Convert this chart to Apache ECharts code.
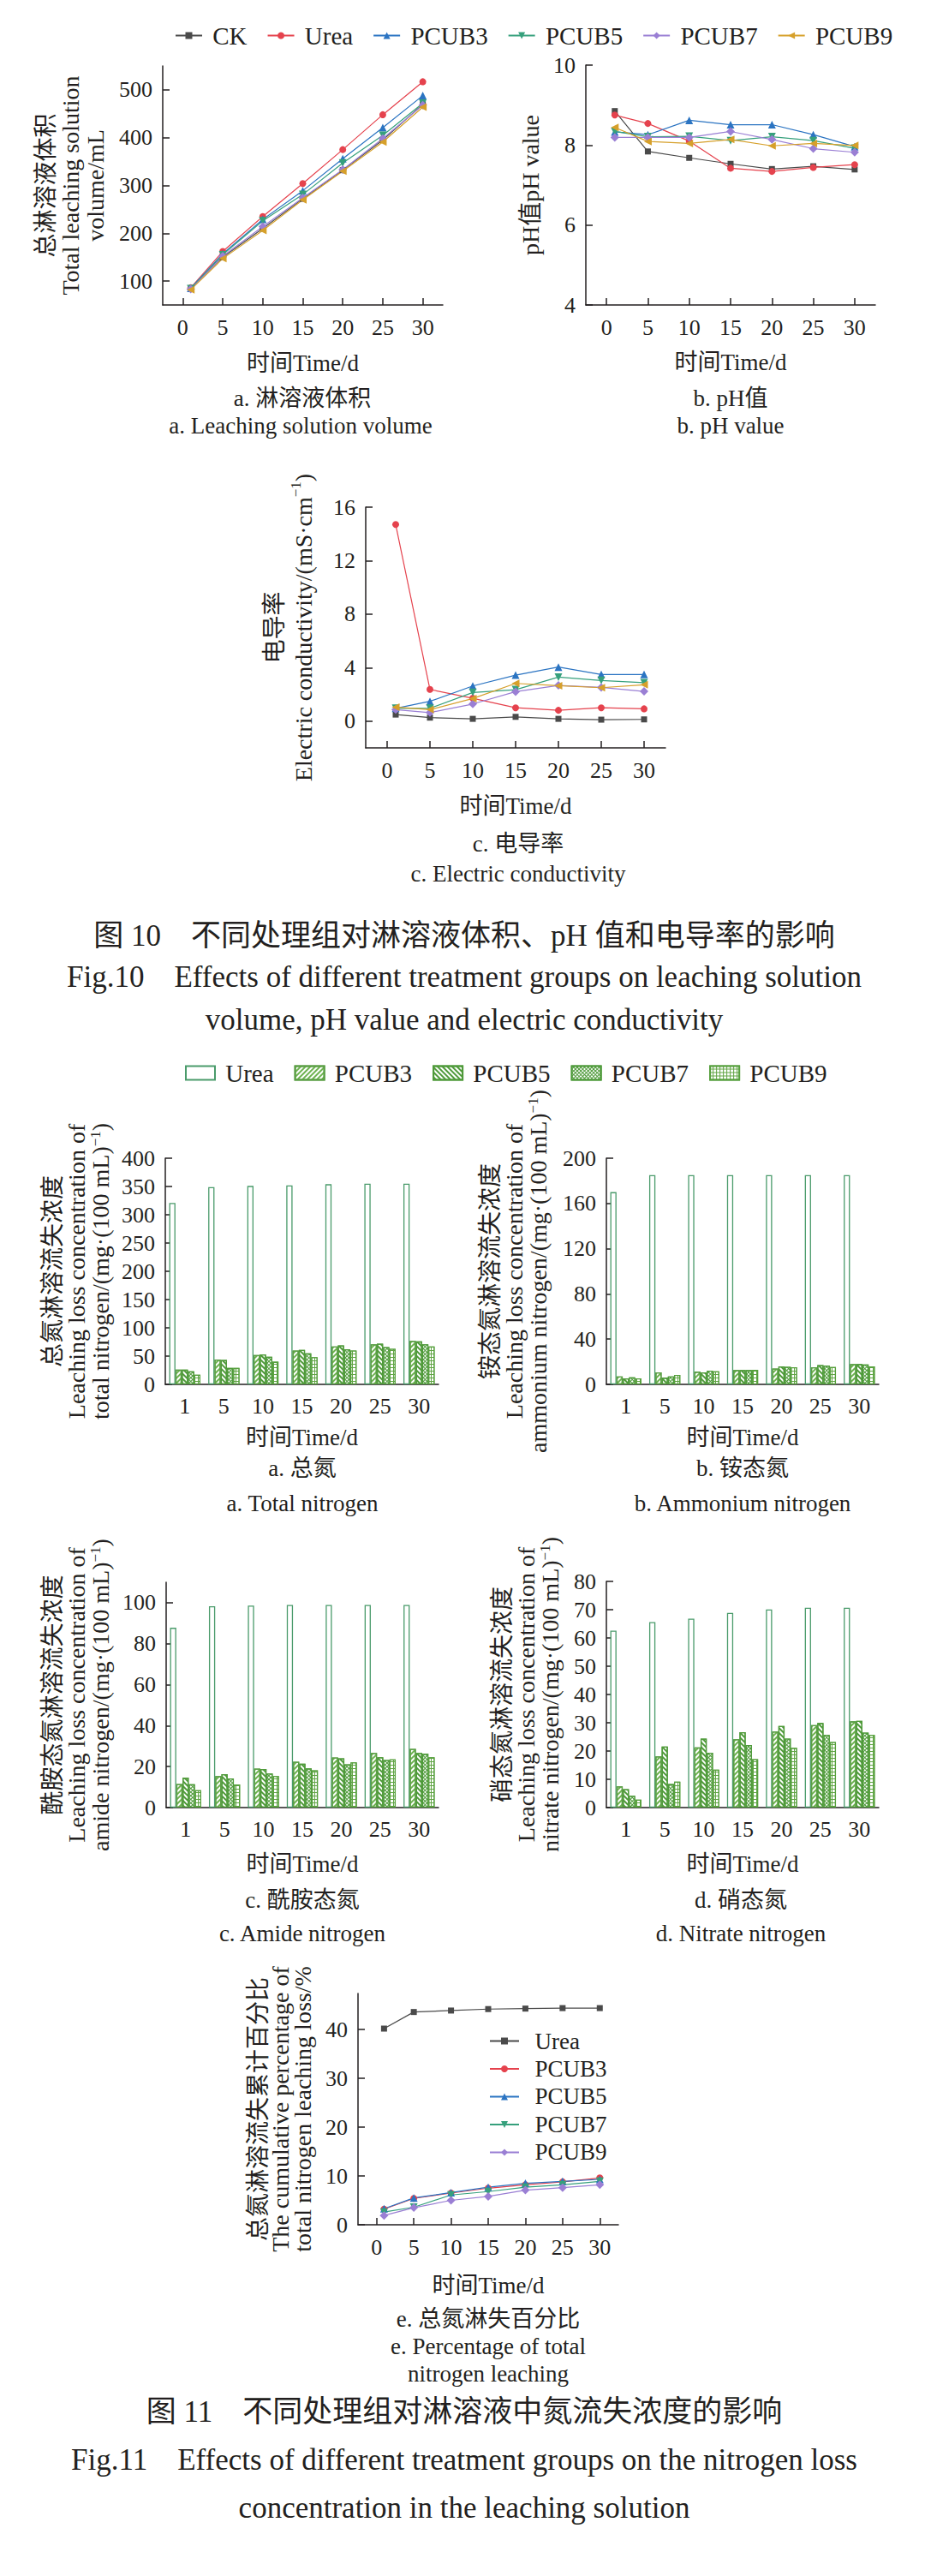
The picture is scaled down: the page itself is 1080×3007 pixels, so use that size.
<!DOCTYPE html>
<html><head><meta charset="utf-8">
<script src="https://cdn.jsdelivr.net/npm/echarts@6/dist/echarts.min.js"></script>
<style>
body{margin:0;background:#fff;width:1080px;height:3007px;position:relative;overflow:hidden}
.c{position:absolute;left:0;width:1080px}
</style></head>
<body>
<div id="c1" class="c" style="top:0;height:1225px"></div>
<div id="c2" class="c" style="top:1225px;height:1060px"></div>
<div id="c3" class="c" style="top:2285px;height:722px"></div>
<script>
// ---------- DATA ----------
const days = [1, 5, 10, 15, 20, 25, 30];
const dayTicks = [0, 5, 10, 15, 20, 25, 30];
const lineNames = ['CK', 'Urea', 'PCUB3', 'PCUB5', 'PCUB7', 'PCUB9'];

// Fig.10 a: total leaching solution volume (mL)
const volCK    = [85, 150, 210, 272, 332, 395, 470];
const volUrea  = [86, 162, 235, 304, 375, 448, 517];
const volPCUB3 = [85, 157, 229, 289, 356, 421, 488];
const volPCUB5 = [84, 155, 226, 281, 347, 405, 472];
const volPCUB7 = [83, 152, 214, 274, 333, 398, 468];
const volPCUB9 = [82, 147, 206, 270, 330, 391, 464];
const volTicks = [100, 200, 300, 400, 500];

// Fig.10 b: pH
const phCK    = [8.85, 7.84, 7.68, 7.53, 7.40, 7.47, 7.39];
const phUrea  = [8.75, 8.54, 8.10, 7.42, 7.34, 7.44, 7.51];
const phPCUB3 = [8.33, 8.26, 8.62, 8.51, 8.51, 8.26, 7.96];
const phPCUB5 = [8.34, 8.21, 8.22, 8.11, 8.21, 8.11, 7.92];
const phPCUB7 = [8.19, 8.19, 8.19, 8.34, 8.14, 7.91, 7.82];
const phPCUB9 = [8.44, 8.09, 8.04, 8.14, 7.98, 8.04, 7.99];
const phTicks = [4, 6, 8, 10];

// Fig.10 c: electric conductivity
const ecCK    = [0.49, 0.26, 0.17, 0.32, 0.17, 0.11, 0.13];
const ecUrea  = [14.7, 2.37, 1.71, 1.00, 0.81, 1.00, 0.92];
const ecPCUB3 = [0.96, 1.48, 2.63, 3.44, 4.04, 3.49, 3.49];
const ecPCUB5 = [0.96, 0.96, 2.14, 2.35, 3.29, 3.04, 2.87];
const ecPCUB7 = [0.86, 0.64, 1.28, 2.20, 2.67, 2.52, 2.22];
const ecPCUB9 = [1.05, 0.86, 1.69, 2.82, 2.65, 2.50, 2.72];
const ecTicks = [0, 4, 8, 12, 16];

// Fig.11 bars
const barNames = ['Urea', 'PCUB3', 'PCUB5', 'PCUB7', 'PCUB9'];
const barCats = ['1', '5', '10', '15', '20', '25', '30'];
// a total nitrogen
const tnUrea  = [321, 349, 351, 352, 354, 355, 355];
const tnPCUB3 = [26, 44, 52, 60, 67, 71, 77];
const tnPCUB5 = [26, 43, 53, 61, 69, 72, 76];
const tnPCUB7 = [23, 29, 49, 55, 62, 66, 71];
const tnPCUB9 = [17, 29, 40, 48, 60, 63, 67];
// b ammonium nitrogen
const amUrea  = [170, 185, 185, 185, 185, 185, 185];
const amPCUB3 = [7.0, 10.6, 11.3, 12.6, 14.1, 15.1, 18.0];
const amPCUB5 = [5.3, 6.0, 10.6, 12.6, 15.9, 17.1, 17.9];
const amPCUB7 = [6.3, 7.0, 12.1, 12.6, 15.6, 16.6, 17.7];
const amPCUB9 = [5.3, 8.3, 11.6, 12.9, 15.1, 15.4, 15.9];
// c amide nitrogen
const adUrea  = [87.8, 98.3, 98.6, 98.9, 98.9, 98.9, 98.9];
const adPCUB3 = [11.5, 15.4, 19.0, 22.4, 24.5, 26.7, 28.7];
const adPCUB5 = [14.6, 16.3, 18.8, 21.4, 24.1, 24.6, 26.7];
const adPCUB7 = [11.4, 14.2, 16.6, 19.1, 21.1, 23.2, 26.3];
const adPCUB9 = [8.5, 11.3, 15.4, 18.2, 22.1, 23.5, 24.6];
const adTicks = [0, 20, 40, 60, 80, 100];
// d nitrate nitrogen
const niUrea  = [62.6, 65.6, 66.8, 68.9, 70.1, 70.7, 70.7];
const niPCUB3 = [7.5, 18.1, 21.3, 24.2, 26.9, 29.2, 30.5];
const niPCUB5 = [6.5, 21.6, 24.4, 26.7, 28.9, 29.9, 30.7];
const niPCUB7 = [4.2, 8.3, 19.4, 22.1, 24.4, 25.7, 26.5];
const niPCUB9 = [2.8, 9.2, 13.4, 17.1, 21.1, 23.2, 25.7];

// Fig.11 e cumulative percentage
const cumNames = ['Urea', 'PCUB3', 'PCUB5', 'PCUB7', 'PCUB9'];
const cumUrea  = [40.2, 43.6, 43.9, 44.2, 44.3, 44.4, 44.4];
const cumPCUB3 = [3.2, 5.4, 6.5, 7.5, 8.2, 8.8, 9.6];
const cumPCUB5 = [3.3, 5.5, 6.6, 7.7, 8.5, 8.9, 9.3];
const cumPCUB7 = [2.6, 3.6, 6.1, 6.8, 7.7, 8.2, 8.9];
const cumPCUB9 = [1.9, 3.5, 5.0, 5.8, 7.1, 7.6, 8.2];
const cumTicks = [0, 10, 20, 30, 40];

// ---------- STYLE ----------
const TXT = '#231f20';
const FF = "'Liberation Serif','Times New Roman','Noto Sans CJK SC',serif";
const AX = {color: TXT, width: 1.5};

const sym = {
  gray:   {color: '#4a4a4a', symbol: 'rect', rot: 0, size: 7},
  red:    {color: '#e5424d', symbol: 'circle', rot: 0, size: 8},
  blue:   {color: '#2b74c2', symbol: 'triangle', rot: 0, size: 9},
  green:  {color: '#36a07c', symbol: 'triangle', rot: 180, size: 9},
  purple: {color: '#9a7fd4', symbol: 'diamond', rot: 0, size: 10},
  orange: {color: '#d6a02b', symbol: 'triangle', rot: 90, size: 9}
};
const lineStyleOf = {CK: sym.gray, Urea: sym.red, PCUB3: sym.blue, PCUB5: sym.green, PCUB7: sym.purple, PCUB9: sym.orange};
const cumStyleOf = {Urea: sym.gray, PCUB3: sym.red, PCUB5: sym.blue, PCUB7: sym.green, PCUB9: sym.purple};

function mkLine(name, vals, idx, s) {
  return {
    type: 'line', name, xAxisIndex: idx, yAxisIndex: idx,
    data: days.map((d, i) => [d, vals[i]]),
    symbol: s.symbol, symbolRotate: s.rot, symbolSize: s.size,
    lineStyle: {width: 1.2, color: s.color}, itemStyle: {color: s.color},
    animation: false
  };
}

function xVal(idx, gap) {
  return {
    type: 'value', gridIndex: idx, min: -2.5, max: 32.5,
    axisLine: {onZero: false, lineStyle: AX},
    axisTick: {inside: true, length: 8, customValues: dayTicks, lineStyle: AX},
    axisLabel: {customValues: dayTicks, fontSize: 26, color: TXT, fontFamily: FF, margin: 13},
    splitLine: {show: false},
    name: '时间Time/d', nameLocation: 'middle', nameGap: gap,
    nameTextStyle: {fontSize: 27, color: TXT, fontFamily: FF}
  };
}

function yAxisCfg(idx, o) {
  const a = {
    type: 'value', gridIndex: idx, min: o.min, max: o.max,
    axisLine: {show: true, onZero: false, lineStyle: AX},
    axisTick: {show: true, inside: true, length: 8, lineStyle: AX},
    axisLabel: {fontSize: 26, color: TXT, fontFamily: FF, margin: 12},
    splitLine: {show: false},
    name: o.name, nameLocation: 'middle', nameRotate: 90, nameGap: o.gap,
    nameTextStyle: {
      fontSize: 28, color: TXT, fontFamily: FF, lineHeight: o.lh || 29,
      rich: {
        t: {fontSize: 28, color: TXT, fontFamily: FF, lineHeight: o.lh || 29},
        s: {fontSize: 17, color: TXT, fontFamily: FF, lineHeight: 18, verticalAlign: 'top'}
      }
    }
  };
  if (o.ticks) { a.axisLabel.customValues = o.ticks; a.axisTick.customValues = o.ticks; }
  if (o.interval) a.interval = o.interval;
  return a;
}

function cap(text, x, y, size) {
  return {
    type: 'text', x, y, silent: true,
    style: {text, fontSize: size, fontFamily: FF, fill: TXT,
      align: 'center', verticalAlign: 'middle', textAlign: 'center', textVerticalAlign: 'middle'}
  };
}

// ---------- CHART 1 (Fig.10) ----------
const c1 = echarts.init(document.getElementById('c1'), null, {renderer: 'svg'});
const volSets = [volCK, volUrea, volPCUB3, volPCUB5, volPCUB7, volPCUB9];
const phSets = [phCK, phUrea, phPCUB3, phPCUB5, phPCUB7, phPCUB9];
const ecSets = [ecCK, ecUrea, ecPCUB3, ecPCUB5, ecPCUB7, ecPCUB9];
const s1 = [];
[volSets, phSets, ecSets].forEach((sets, idx) => {
  lineNames.forEach((n, k) => s1.push(mkLine(n, sets[k], idx, lineStyleOf[n])));
});
c1.setOption({
  animation: false,
  backgroundColor: '#fff',
  legend: {
    data: lineNames, left: 199, top: 22, itemWidth: 31, itemHeight: 10, itemGap: 23,
    formatter: ' {name}',
    textStyle: {fontSize: 29, color: TXT, fontFamily: FF}
  },
  grid: [
    {left: 190, top: 77, width: 327, height: 279},
    {left: 684, top: 76, width: 338, height: 280},
    {left: 427, top: 592, width: 350, height: 281}
  ],
  xAxis: [xVal(0, 54), xVal(1, 53), xVal(2, 54)],
  yAxis: [
    yAxisCfg(0, {min: 50, max: 550, ticks: volTicks, gap: 64, lh: 29,
      name: '总淋溶液体积\nTotal leaching solution\nvolume/mL'}),
    yAxisCfg(1, {min: 4, max: 10, interval: 2, gap: 50, name: 'pH值pH value'}),
    yAxisCfg(2, {min: -2, max: 16, ticks: ecTicks, gap: 56, lh: 34,
      name: '电导率\n{t|Electric conductivity/(mS·cm}{s|−1}{t|)}'})
  ],
  series: s1,
  graphic: [
    cap('a. 淋溶液体积', 353, 465, 27),
    cap('a. Leaching solution volume', 351, 497, 27),
    cap('b. pH值', 853, 465, 27),
    cap('b. pH value', 853, 497, 27),
    cap('c. 电导率', 605, 985, 27),
    cap('c. Electric conductivity', 605, 1020, 27),
    cap('图 10　不同处理组对淋溶液体积、pH 值和电导率的影响', 542, 1092, 35),
    cap('Fig.10　Effects of different treatment groups on leaching solution', 542, 1140, 35),
    cap('volume, pH value and electric conductivity', 542, 1190, 35)
  ]
});

// ---------- CHART 2 (Fig.11 a-d bars) ----------
const barStyle = {
  Urea:  {fill: '#ffffff', edge: '#4a9b6b', decal: null},
  PCUB3: {fill: '#ffffff', edge: '#5a9e45',
          decal: {symbol: 'rect', symbolSize: 1, dashArrayX: [1, 0], dashArrayY: [1.5, 2], rotation: -Math.PI / 4, color: '#6db24f'}},
  PCUB5: {fill: '#ffffff', edge: '#4f9a3a',
          decal: {symbol: 'rect', symbolSize: 1, dashArrayX: [1, 0], dashArrayY: [1.5, 1.6], rotation: Math.PI / 4, color: '#4f9a3a'}},
  PCUB7: {fill: '#4e9a3a', edge: '#4e9a3a',
          decal: {symbol: 'rect', symbolSize: 1, dashArrayX: [2, 1], dashArrayY: [2, 1], rotation: Math.PI / 4, color: '#ffffff'}},
  PCUB9: {fill: '#62a545', edge: '#57a03e',
          decal: {symbol: 'rect', symbolSize: 1, dashArrayX: [3, 1], dashArrayY: [3, 1], rotation: 0, color: '#ffffff'}}
};
function mkBar(name, vals, idx) {
  const st = barStyle[name];
  const it = {color: st.fill, borderColor: st.edge, borderWidth: 1.3};
  if (st.decal) it.decal = st.decal;
  return {
    type: 'bar', name, xAxisIndex: idx, yAxisIndex: idx, data: vals.slice(),
    barGap: '0%', barCategoryGap: '20%', itemStyle: it, animation: false
  };
}
function xCat(idx, gap) {
  return {
    type: 'category', gridIndex: idx, data: barCats,
    axisLine: {lineStyle: AX}, axisTick: {show: false},
    axisLabel: {fontSize: 26, color: TXT, fontFamily: FF, margin: 12},
    name: '时间Time/d', nameLocation: 'middle', nameGap: gap,
    nameTextStyle: {fontSize: 27, color: TXT, fontFamily: FF}
  };
}
const barSets = [
  [tnUrea, tnPCUB3, tnPCUB5, tnPCUB7, tnPCUB9],
  [amUrea, amPCUB3, amPCUB5, amPCUB7, amPCUB9],
  [adUrea, adPCUB3, adPCUB5, adPCUB7, adPCUB9],
  [niUrea, niPCUB3, niPCUB5, niPCUB7, niPCUB9]
];
const s2 = [];
barSets.forEach((sets, idx) => barNames.forEach((n, k) => s2.push(mkBar(n, sets[k], idx))));
const c2 = echarts.init(document.getElementById('c2'), null, {renderer: 'svg'});
c2.setOption({
  animation: false,
  backgroundColor: '#fff',
  legend: {
    data: barNames, left: 211, top: 8, itemWidth: 34, itemHeight: 16, itemGap: 24, icon: 'rect',
    formatter: ' {name}',
    textStyle: {fontSize: 29, color: TXT, fontFamily: FF}
  },
  grid: [
    {left: 193, top: 127, width: 319, height: 264},
    {left: 708, top: 127, width: 318, height: 264},
    {left: 194, top: 622, width: 318, height: 263},
    {left: 708, top: 621, width: 318, height: 264}
  ],
  xAxis: [xCat(0, 48), xCat(1, 48), xCat(2, 52), xCat(3, 52)],
  yAxis: [
    yAxisCfg(0, {min: 0, max: 400, interval: 50, gap: 62, lh: 28,
      name: '总氮淋溶流失浓度\nLeaching loss concentration of\n{t|total nitrogen/(mg·(100 mL)}{s|−1}{t|)}'}),
    yAxisCfg(1, {min: 0, max: 200, interval: 40, gap: 66, lh: 28,
      name: '铵态氮淋溶流失浓度\nLeaching loss concentration of\n{t|ammonium nitrogen/(mg·(100 mL)}{s|−1}{t|)}'}),
    yAxisCfg(2, {min: 0, max: 110, ticks: adTicks, gap: 63, lh: 28,
      name: '酰胺态氮淋溶流失浓度\nLeaching loss concentration of\n{t|amide nitrogen/(mg·(100 mL)}{s|−1}{t|)}'}),
    yAxisCfg(3, {min: 0, max: 80, interval: 10, gap: 52, lh: 28,
      name: '硝态氮淋溶流失浓度\nLeaching loss concentration of\n{t|nitrate nitrogen/(mg·(100 mL)}{s|−1}{t|)}'})
  ],
  series: s2,
  graphic: [
    cap('a. 总氮', 353, 489, 27),
    cap('a. Total nitrogen', 353, 530, 27),
    cap('b. 铵态氮', 867, 489, 27),
    cap('b. Ammonium nitrogen', 867, 530, 27),
    cap('c. 酰胺态氮', 353, 993, 27),
    cap('c. Amide nitrogen', 353, 1032, 27),
    cap('d. 硝态氮', 865, 993, 27),
    cap('d. Nitrate nitrogen', 865, 1032, 27)
  ]
});

// ---------- CHART 3 (Fig.11 e) ----------
const cumSets = [cumUrea, cumPCUB3, cumPCUB5, cumPCUB7, cumPCUB9];
const s3 = cumNames.map((n, k) => mkLine(n, cumSets[k], 0, cumStyleOf[n]));
const c3 = echarts.init(document.getElementById('c3'), null, {renderer: 'svg'});
c3.setOption({
  animation: false,
  backgroundColor: '#fff',
  legend: {
    data: cumNames, orient: 'vertical', left: 566, top: 79, itemWidth: 34, itemHeight: 10, itemGap: 5.5,
    formatter: '  {name}',
    textStyle: {fontSize: 27, color: TXT, fontFamily: FF, lineHeight: 26}
  },
  grid: [{left: 418, top: 42, width: 304, height: 270}],
  xAxis: [xVal(0, 57)],
  yAxis: [yAxisCfg(0, {min: 0, max: 47.4, ticks: cumTicks, gap: 52, lh: 26,
    name: '总氮淋溶流失累计百分比\nThe cumulative percentage of\ntotal nitrogen leaching loss/%'})],
  series: s3,
  graphic: [
    cap('e. 总氮淋失百分比', 570, 422, 27),
    cap('e. Percentage of total', 570, 454, 27),
    cap('nitrogen leaching', 570, 486, 27),
    cap('图 11　不同处理组对淋溶液中氮流失浓度的影响', 542, 530, 35),
    cap('Fig.11　Effects of different treatment groups on the nitrogen loss', 542, 586, 35),
    cap('concentration in the leaching solution', 542, 642, 35)
  ]
});
</script>
</body></html>
